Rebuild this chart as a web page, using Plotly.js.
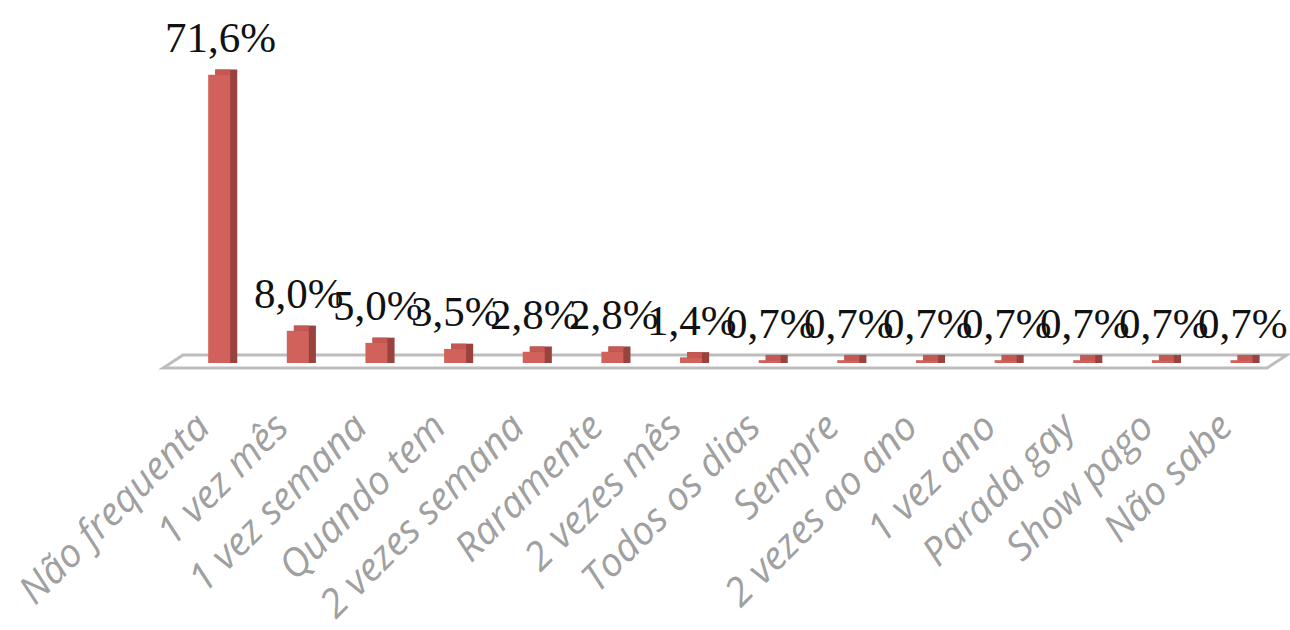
<!DOCTYPE html>
<html>
<head>
<meta charset="utf-8">
<script src="https://cdn.plot.ly/plotly-3.0.1.min.js"></script>
<style>html,body{margin:0;padding:0;background:#fff;}#chart{width:1290px;height:630px;}</style>
</head>
<body>
<div id="chart"></div>
<script>
const categories = ["Não frequenta","1 vez mês","1 vez semana","Quando tem","2 vezes semana","Raramente","2 vezes mês","Todos os dias","Sempre","2 vezes ao ano","1 vez ano","Parada gay","Show pago","Não sabe"];
const values = [71.6, 8.0, 5.0, 3.5, 2.8, 2.8, 1.4, 0.7, 0.7, 0.7, 0.7, 0.7, 0.7, 0.7];
const labels = ["71,6%","8,0%","5,0%","3,5%","2,8%","2,8%","1,4%","0,7%","0,7%","0,7%","0,7%","0,7%","0,7%","0,7%"];

const W = 0.28, OFF = -0.18, DX = 0.09, DY = 1.3;
const n = categories.length;
const arr = v => categories.map(() => v);

// 3D look: dark side box, lighter top face, front face
const sideTrace = {type:'bar', x:categories, y:values.map(v => v + DY), base:arr(0), width:arr(W), offset:arr(OFF+DX),
  marker:{color:'#9A423E', line:{width:0}}, hoverinfo:'skip'};
const topTrace = {type:'bar', x:categories, y:arr(DY), base:values, width:arr(W-DX), offset:arr(OFF+DX),
  marker:{color:'#C45853', line:{width:0}}, hoverinfo:'skip'};
const frontTrace = {type:'bar', x:categories, y:values, width:arr(W), offset:arr(OFF),
  marker:{color:'#D0625B', line:{width:0}}};

const annotations = categories.map((c,i) => ({
  x:c, y:values[i], xref:'x', yref:'y', text:labels[i], showarrow:false,
  yanchor:'middle', xanchor:'center', yshift:37, xshift:-2,
  font:{family:'Liberation Serif, serif', size:43, color:'#111'}
}));

const layout = {
  width:1290, height:630,
  margin:{l:183, r:6, t:41, b:267},
  paper_bgcolor:'#fff', plot_bgcolor:'rgba(0,0,0,0)',
  barmode:'overlay', showlegend:false,
  xaxis:{type:'category', range:[-0.5, n-0.5], showgrid:false, zeroline:false, showline:false,
    ticks:'', tickangle:-45, automargin:false, ticklabelstandoff:32, ticklabelshift:-24,
    tickfont:{family:'Open Sans, sans-serif', size:39, color:'#A0A0A0', style:'italic'}},
  yaxis:{range:[0,80], showgrid:false, zeroline:false, showline:false, showticklabels:false, ticks:'', fixedrange:true},
  annotations:annotations,
  shapes:[{type:'path', xref:'paper', yref:'paper', layer:'below',
    path:'M -0.018 -0.0155 L 0.9846 -0.0155 L 1.0027 0.0248 L 0 0.0248 Z',
    line:{color:'#BDBDBD', width:3}, fillcolor:'rgba(0,0,0,0)'}]
};
Plotly.newPlot('chart', [sideTrace, topTrace, frontTrace], layout, {displayModeBar:false, staticPlot:true});
</script>
</body>
</html>
